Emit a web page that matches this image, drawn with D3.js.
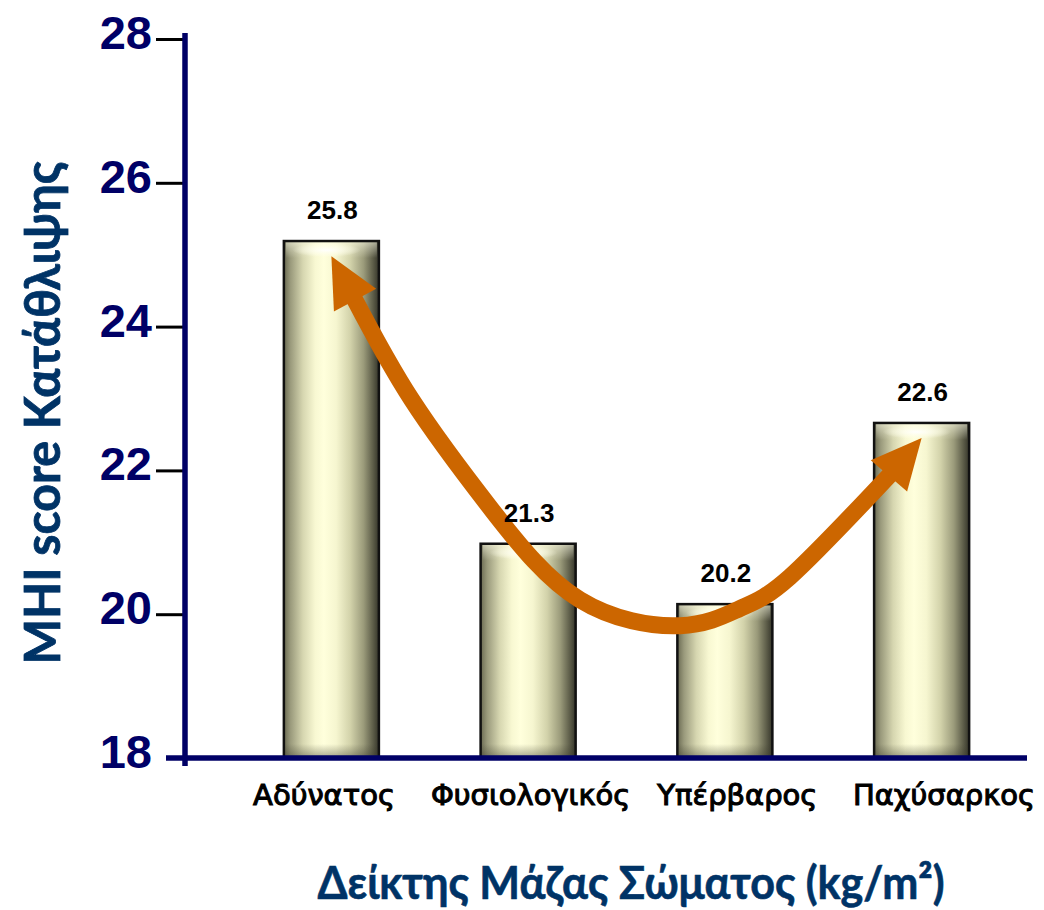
<!DOCTYPE html>
<html>
<head>
<meta charset="utf-8">
<script src="https://cdn.jsdelivr.net/npm/d3@7"></script>
<style>
  html, body { margin: 0; padding: 0; background: #ffffff; }
  svg { display: block; }
</style>
</head>
<body>
<svg id="chart" width="1044" height="910"></svg>
<script>
// ---- data ----
const categories = ["Αδύνατος", "Φυσιολογικός", "Υπέρβαρος", "Παχύσαρκος"];
const barValues = [25.19, 20.98, 20.14, 22.66];
const valueLabels = ["25.8", "21.3", "20.2", "22.6"];
const yTicks = [18, 20, 22, 24, 26, 28];
const yTitle = "MHI score Κατάθλιψης";
const xTitle = "Δείκτης Μάζας Σώματος (kg/m²)";
// trend arrow path in data space: [category index, value]
const arrowPoints = [[0.114, 24.40], [0.409, 22.98], [0.816, 21.45], [1.263, 20.20],
                     [1.772, 19.84], [2.077, 20.08], [2.331, 20.52], [2.839, 21.94]];
const arrowStartTip = [0.0, 24.98];
const arrowEndTip = [3.0, 22.45];

// ---- layout ----
const svg = d3.select("#chart");
const yAxisX = 185;
const y = d3.scaleLinear().domain([18, 28]).range([758, 39]);
const x = d3.scaleBand().domain(categories).range([233, 1020])
  .paddingInner(0.517).paddingOuter(0.2585);
const xIdx = d3.scaleLinear().domain([0, 3])
  .range([x(categories[0]) + x.bandwidth() / 2, x(categories[3]) + x.bandwidth() / 2]);
const xLabel = d3.scalePoint().domain(categories).range([324, 944]);

// ---- defs ----
const defs = svg.append("defs");
const hg = defs.append("linearGradient").attr("id", "barGrad")
  .attr("x1", "0%").attr("x2", "100%").attr("y1", "0%").attr("y2", "0%");
[[0, "#6a6a52"], [0.07, "#9a9a7c"], [0.2, "#d6d6b0"], [0.33, "#f8f8d2"], [0.42, "#ffffdc"],
 [0.55, "#f6f6d0"], [0.7, "#d2d2aa"], [0.84, "#9a9a7a"], [0.94, "#5c5c48"], [1, "#35352a"]]
  .forEach(([o, c]) => hg.append("stop").attr("offset", o).attr("stop-color", c));
const tg = defs.append("radialGradient").attr("id", "topGlow");
tg.append("stop").attr("offset", 0).attr("stop-color", "#ffffff").attr("stop-opacity", 0.95);
tg.append("stop").attr("offset", 0.6).attr("stop-color", "#ffffee").attr("stop-opacity", 0.5);
tg.append("stop").attr("offset", 1).attr("stop-color", "#ffffee").attr("stop-opacity", 0);
const bg = defs.append("linearGradient").attr("id", "botShade")
  .attr("x1", "0").attr("x2", "0").attr("y1", "0").attr("y2", "1");
bg.append("stop").attr("offset", 0).attr("stop-color", "#3a3a2a").attr("stop-opacity", 0);
bg.append("stop").attr("offset", 1).attr("stop-color", "#3a3a2a").attr("stop-opacity", 0.45);
const topBand = defs.append("linearGradient").attr("id", "topBand")
  .attr("x1", "0").attr("x2", "0").attr("y1", "0").attr("y2", "1");
topBand.append("stop").attr("offset", 0).attr("stop-color", "#ffffe8").attr("stop-opacity", 0.55);
topBand.append("stop").attr("offset", 1).attr("stop-color", "#ffffe8").attr("stop-opacity", 0);

// ---- bars ----
const bars = svg.append("g").selectAll("g").data(categories).join("g");
bars.append("rect")
  .attr("x", d => x(d)).attr("width", x.bandwidth())
  .attr("y", (d, i) => y(barValues[i])).attr("height", (d, i) => y(18) - y(barValues[i]))
  .attr("fill", "url(#barGrad)");
bars.append("rect")
  .attr("x", d => x(d) + 2).attr("width", x.bandwidth() - 4)
  .attr("y", (d, i) => y(barValues[i]) + 1).attr("height", 16)
  .attr("fill", "url(#topBand)");
bars.append("ellipse")
  .attr("cx", d => x(d) + x.bandwidth() * 0.45).attr("rx", x.bandwidth() * 0.36)
  .attr("cy", (d, i) => y(barValues[i]) + 9).attr("ry", 7)
  .attr("fill", "url(#topGlow)");
bars.append("rect")
  .attr("x", d => x(d) + 1).attr("width", x.bandwidth() - 2)
  .attr("y", y(18) - 14).attr("height", 14)
  .attr("fill", "url(#botShade)");
bars.append("rect")
  .attr("x", d => x(d)).attr("width", x.bandwidth())
  .attr("y", (d, i) => y(barValues[i])).attr("height", (d, i) => y(18) - y(barValues[i]))
  .attr("fill", "none").attr("stroke", "#111111").attr("stroke-width", 2.5);

// ---- arrow ----
const toPx = p => [xIdx(p[0]), y(p[1])];
const orange = "#cc6600";
const line = d3.line().curve(d3.curveNatural);
svg.append("path")
  .attr("d", line(arrowPoints.map(toPx)))
  .attr("fill", "none").attr("stroke", orange).attr("stroke-width", 17)
  .attr("stroke-linecap", "butt");
function head(tipD, baseD) {
  const t = toPx(tipD), b = toPx(baseD);
  const dx = t[0] - b[0], dy = t[1] - b[1];
  const L = Math.hypot(dx, dy), ux = dx / L, uy = dy / L;
  const len = 50, hw = 24;
  const bx = t[0] - ux * len, by = t[1] - uy * len;
  return [[t[0], t[1]], [bx - uy * hw, by + ux * hw], [bx + uy * hw, by - ux * hw]];
}
svg.append("polygon")
  .attr("points", head(arrowStartTip, arrowPoints[0]).map(p => p.join(",")).join(" "))
  .attr("fill", orange);
svg.append("polygon")
  .attr("points", head(arrowEndTip, arrowPoints[arrowPoints.length - 1]).map(p => p.join(",")).join(" "))
  .attr("fill", orange);

// value labels
svg.append("g").selectAll("text").data(categories).join("text")
  .attr("x", d => x(d) + x.bandwidth() / 2 + 1)
  .attr("y", (d, i) => y(barValues[i]) - 22)
  .attr("text-anchor", "middle")
  .attr("font-family", "'Liberation Sans', Arial, sans-serif")
  .attr("font-weight", "bold").attr("font-size", 26).attr("fill", "#000000")
  .text((d, i) => valueLabels[i]);

// ---- axes ----
const navy = "#000066";
const yAxis = d3.axisLeft(y).tickValues(yTicks.filter(t => t !== 18)).tickSize(28).tickFormat("");
const gy = svg.append("g").attr("transform", `translate(${yAxisX - 1},0)`).call(yAxis);
gy.select(".domain").remove();
gy.selectAll(".tick line").attr("stroke", "#000000").attr("stroke-width", 3);
svg.append("g").selectAll("text").data(yTicks).join("text")
  .attr("x", 152).attr("y", d => y(d) + 10)
  .attr("text-anchor", "end")
  .attr("font-family", "'Liberation Sans', Arial, sans-serif")
  .attr("font-weight", "bold").attr("font-size", 47).attr("fill", navy)
  .text(d => d);
svg.append("line").attr("x1", yAxisX).attr("x2", yAxisX).attr("y1", 33).attr("y2", 766)
  .attr("stroke", navy).attr("stroke-width", 5.5);
svg.append("line").attr("x1", 166).attr("x2", 1027).attr("y1", y(18)).attr("y2", y(18))
  .attr("stroke", navy).attr("stroke-width", 5.5);

// category labels
svg.append("g").selectAll("text").data(categories).join("text")
  .attr("x", d => xLabel(d)).attr("y", 805)
  .attr("text-anchor", "middle")
  .attr("font-family", "'DejaVu Sans', sans-serif")
  .attr("font-weight", "normal").attr("font-size", 29).attr("fill", "#000000")
  .attr("stroke", "#000000").attr("stroke-width", 1.1)
  .text(d => d);

// axis titles
const titleColor = "#003366";
svg.append("text")
  .attr("transform", `translate(60,413) rotate(-90)`)
  .attr("text-anchor", "middle")
  .attr("font-family", "Lato, 'Noto Sans', sans-serif")
  .attr("font-weight", "bold").attr("font-size", 50).attr("fill", titleColor)
  .attr("stroke", titleColor).attr("stroke-width", 0.8)
  .attr("textLength", 503).attr("lengthAdjust", "spacingAndGlyphs")
  .text(yTitle);
svg.append("text")
  .attr("x", 631).attr("y", 899)
  .attr("text-anchor", "middle")
  .attr("font-family", "Lato, 'Noto Sans', sans-serif")
  .attr("font-weight", "bold").attr("font-size", 45).attr("fill", titleColor)
  .attr("stroke", titleColor).attr("stroke-width", 0.6)
  .attr("textLength", 627).attr("lengthAdjust", "spacingAndGlyphs")
  .text(xTitle);
</script>
</body>
</html>
